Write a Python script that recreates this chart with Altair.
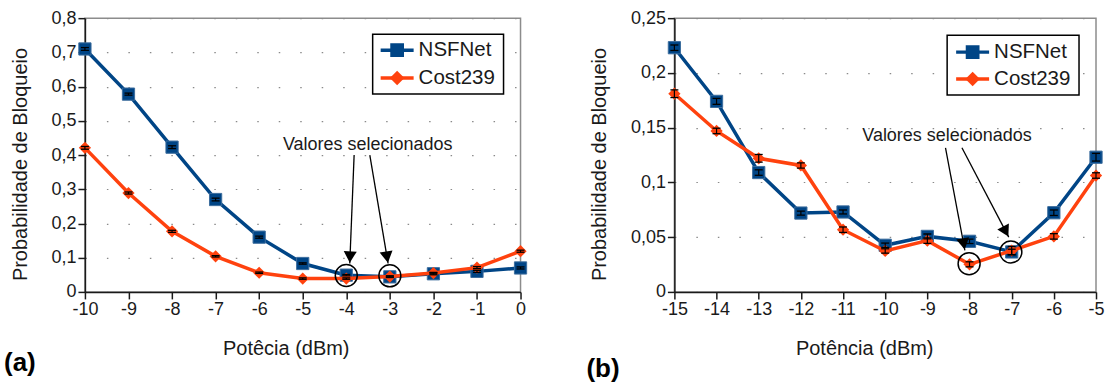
import math
import altair as alt
import pandas as pd

FONT = "Liberation Sans"
BLUE = "#004586"
ORANGE = "#ff420e"
INK = "#1a1a1a"

# ---------------- panel (a) data ----------------
pot_a = [-10, -9, -8, -7, -6, -5, -4, -3, -2, -1, 0]
nsf_a = [0.710, 0.578, 0.423, 0.270, 0.160, 0.083, 0.049, 0.044, 0.053, 0.060, 0.070]
cost_a = [0.421, 0.289, 0.177, 0.104, 0.056, 0.039, 0.039, 0.045, 0.055, 0.071, 0.119]
nsf_err_a = [0.004, 0.003, 0.004, 0.004, 0.003, 0.002, 0.002, 0.002, 0.003, 0.003, 0.003]
cost_err_a = [0.004, 0.003, 0.003, 0.002, 0.002, 0.002, 0.002, 0.002, 0.002, 0.003, 0.003]
xticks_a = [-10, -9, -8, -7, -6, -5, -4, -3, -2, -1, 0]
yticks_a = [0, 0.1, 0.2, 0.3, 0.4, 0.5, 0.6, 0.7, 0.8]
sel_x_a = [-4.0, -3.0]
sel_y_a = [0.048, 0.047]
arrow_x_a = [-3.82, -3.46]
arrow_y_a = [0.400, 0.400]
arrow_x2_a = [-3.92, -3.04]
arrow_y2_a = [0.083, 0.083]
note_x_a = [-3.51]
note_y_a = [0.430]

# ---------------- panel (b) data ----------------
pot_b = [-15, -14, -13, -12, -11, -10, -9, -8, -7, -6, -5]
nsf_b = [0.223, 0.174, 0.109, 0.072, 0.073, 0.0426, 0.0507, 0.0462, 0.0365, 0.0723, 0.123]
cost_b = [0.181, 0.147, 0.122, 0.1155, 0.0568, 0.0374, 0.0468, 0.0252, 0.0377, 0.0507, 0.1063]
nsf_err_b = [0.0025, 0.0027, 0.0025, 0.0018, 0.0018, 0.0020, 0.0022, 0.0020, 0.0025, 0.0025, 0.0035]
cost_err_b = [0.0035, 0.0025, 0.0035, 0.0024, 0.0025, 0.0020, 0.0025, 0.0023, 0.0038, 0.0025, 0.0025]
xticks_b = [-15, -14, -13, -12, -11, -10, -9, -8, -7, -6, -5]
yticks_b = [0, 0.05, 0.1, 0.15, 0.2, 0.25]
sel_x_b = [-8.01, -7.02]
sel_y_b = [0.0258, 0.0365]
arrow_x_b = [-8.57, -8.18]
arrow_y_b = [0.1316, 0.1316]
arrow_x2_b = [-8.11, -7.07]
arrow_y2_b = [0.038, 0.050]
note_x_b = [-8.535]
note_y_b = [0.142]

series_names = ["NSFNet", "Cost239"]
note_text = "Valores selecionados"
ytitle = "Probabilidade de Bloqueio"


def panel(pot, nsf, cost, nsf_err, cost_err, xdom, ydom, xticks, yticks,
          w, h, xtitle, xtitle_x, ytitle_x, ytitle_y,
          sel_x, sel_y, ax, ay, ax2, ay2, nx, ny,
          leg, plabel, plabel_pos):
    rows = []
    for name, vals, errs in ((series_names[0], nsf, nsf_err), (series_names[1], cost, cost_err)):
        for xv, yv, ev in zip(pot, vals, errs):
            rows.append({"x": xv, "y": yv, "lo": yv - ev, "hi": yv + ev, "s": name})
    df = pd.DataFrame(rows)

    xscale = alt.Scale(domain=xdom, nice=False, zero=False)
    yscale = alt.Scale(domain=ydom, nice=False, zero=False)
    xaxis = alt.Axis(values=xticks, title=xtitle, grid=False, labelFlush=False,
                     labelExpr="'' + datum.value", titleX=xtitle_x, titleY=57,
                     titleBaseline="middle", labelOverlap=False)
    yaxis = alt.Axis(values=yticks, title=ytitle, grid=True, gridDash=[1.5, 20],
                     gridColor="#8a8a8a", gridWidth=1.2,
                     labelExpr="replace('' + datum.value, '.', ',')",
                     titleX=ytitle_x, titleY=ytitle_y, titleBaseline="middle",
                     labelOverlap=False)

    def X(f):
        return alt.X(f, type="quantitative", scale=xscale, axis=xaxis)

    def Y(f):
        return alt.Y(f, type="quantitative", scale=yscale, axis=yaxis)

    base = alt.Chart(df)
    nsf_sel = base.transform_filter(alt.datum.s == series_names[0])
    cost_sel = base.transform_filter(alt.datum.s == series_names[1])

    layers = [
        nsf_sel.mark_line(color=BLUE, strokeWidth=3.5).encode(x=X("x"), y=Y("y")),
        nsf_sel.mark_point(shape="square", filled=True, size=150, color=BLUE, opacity=1,
                           stroke="#3d6d9e", strokeWidth=1).encode(x=X("x"), y=Y("y")),
        cost_sel.mark_line(color=ORANGE, strokeWidth=3.5).encode(x=X("x"), y=Y("y")),
        cost_sel.mark_point(shape="diamond", filled=True, size=150, color=ORANGE, opacity=1).encode(
            x=X("x"), y=Y("y")),
        base.mark_rule(color="black", strokeWidth=1.2).encode(x=X("x"), y=Y("lo"), y2="hi"),
        base.mark_tick(orient="horizontal", size=8, thickness=1.3, color="black", opacity=1).encode(
            x=X("x"), y=Y("lo")),
        base.mark_tick(orient="horizontal", size=8, thickness=1.3, color="black", opacity=1).encode(
            x=X("x"), y=Y("hi")),
    ]

    # selection circles
    cdf = pd.DataFrame({"x": sel_x, "y": sel_y})
    layers.append(alt.Chart(cdf).mark_point(shape="circle", filled=False, size=484,
                                            color="black", strokeWidth=1.5, opacity=1).encode(
        x=X("x"), y=Y("y")))

    # arrows
    sx = w / (xdom[1] - xdom[0])
    sy = h / (ydom[1] - ydom[0])
    hx, hy, ang = [], [], []
    for x0, y0, x1, y1 in zip(ax, ay, ax2, ay2):
        dx = (x1 - x0) * sx
        dy = -(y1 - y0) * sy
        ln = math.hypot(dx, dy)
        ang.append(math.degrees(math.atan2(-dx, dy)) % 360)
        back = 6.5
        hx.append(x1 - back * dx / ln / sx)
        hy.append(y1 + back * dy / ln / sy)
    adf = pd.DataFrame({"x": ax, "y": ay, "x2": ax2, "y2": ay2})
    layers.append(alt.Chart(adf).mark_rule(color="black", strokeWidth=1.3).encode(
        x=X("x"), y=Y("y"), x2="x2", y2="y2"))
    hdf = pd.DataFrame({"x": hx, "y": hy, "a": ang})
    layers.append(alt.Chart(hdf).mark_point(shape="triangle-down", filled=True, size=170,
                                            color="black", opacity=1).encode(
        x=X("x"), y=Y("y"), angle=alt.Angle("a:Q", scale=None)))

    # note text
    ndf = pd.DataFrame({"x": nx, "y": ny, "t": [note_text]})
    layers.append(alt.Chart(ndf).mark_text(font=FONT, fontSize=18, color=INK,
                                           align="center", baseline="middle").encode(
        x=X("x"), y=Y("y"), text="t:N"))

    # manual legend
    one = alt.Chart(pd.DataFrame({"k": [0]}))
    bx1, bx2, by1, by2, lx1, lx2, tx, ry1, ry2 = leg
    layers.append(one.mark_rect(fill="white", stroke="black", strokeWidth=1.5).encode(
        x=alt.value(bx1), x2=alt.value(bx2), y=alt.value(by1), y2=alt.value(by2)))
    for ry, col, shp, name in ((ry1, BLUE, "square", series_names[0]),
                               (ry2, ORANGE, "diamond", series_names[1])):
        layers.append(one.mark_rule(color=col, strokeWidth=3.5).encode(
            x=alt.value(lx1), x2=alt.value(lx2), y=alt.value(ry)))
        layers.append(one.mark_point(shape=shp, filled=True, size=190 if shp == "square" else 210,
                                     color=col, opacity=1).encode(
            x=alt.value((lx1 + lx2) / 2), y=alt.value(ry)))
        layers.append(one.mark_text(text=name, font=FONT, fontSize=20.5, color=INK,
                                    align="left", baseline="middle").encode(
            x=alt.value(tx), y=alt.value(ry)))

    # panel label
    layers.append(one.mark_text(text=plabel, font=FONT, fontSize=26, fontWeight="bold",
                                color="black", align="left", baseline="middle").encode(
        x=alt.value(plabel_pos[0]), y=alt.value(plabel_pos[1])))

    return alt.layer(*layers).properties(width=w, height=h)


left = panel(pot_a, nsf_a, cost_a, nsf_err_a, cost_err_a, [-10, 0], [0, 0.8],
             xticks_a, yticks_a, 436, 274, "Potêcia (dBm)", 201, -64, 146,
             sel_x_a, sel_y_a, arrow_x_a, arrow_y_a, arrow_x2_a, arrow_y2_a,
             note_x_a, note_y_a,
             (288, 419, 16, 76, 296, 329, 334, 32, 60), "(a)", (-81, 345))

right = panel(pot_b, nsf_b, cost_b, nsf_err_b, cost_err_b, [-15, -5], [0, 0.25],
              xticks_b, yticks_b, 422, 274, "Potência (dBm)", 190, -75, 146,
              sel_x_b, sel_y_b, arrow_x_b, arrow_y_b, arrow_x2_b, arrow_y2_b,
              note_x_b, note_y_b,
              (273, 405, 17, 77, 282, 315, 320, 34, 61), "(b)", (-88, 351))

chart = alt.hconcat(left, right, spacing=56).properties(
    padding={"left": 3, "top": 8, "right": 0, "bottom": 0},
    background="white",
).configure_view(
    stroke="#8c8c8c", strokeWidth=1.5
).configure_axis(
    domainColor=INK, domainWidth=1.5, tickColor=INK, tickWidth=1.5, tickSize=7,
    labelFont=FONT, labelFontSize=18, labelColor=INK, labelPadding=2,
    titleFont=FONT, titleFontSize=20, titleFontWeight="normal", titleColor=INK,
)

chart.save("out.html", embed_options={"renderer": "svg", "actions": False})
